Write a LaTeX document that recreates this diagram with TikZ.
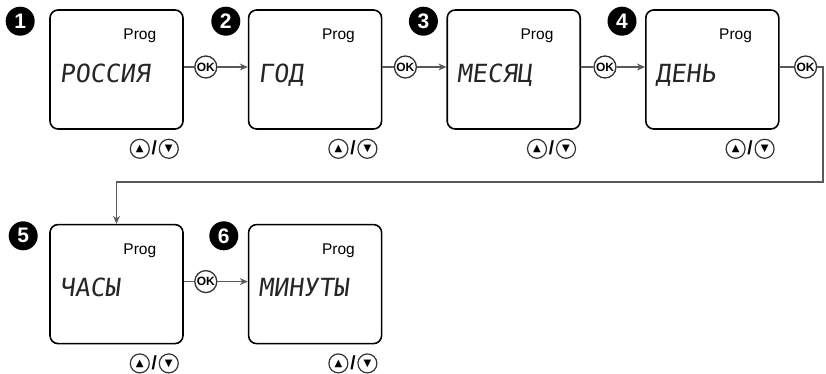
\documentclass[tikz,border=0pt]{standalone}
\usepackage{fontspec}
\setmainfont{Liberation Sans}
\newfontfamily\lcdfont[FakeSlant=0.12]{DejaVu Sans Mono}
\newfontfamily\symfont{DejaVu Sans}
\usetikzlibrary{calc,positioning,arrows.meta}
\tikzset{
    screen/.style={
        draw,
        line width=1.6pt,
        rounded corners=8pt,
        minimum width=133pt,
        minimum height=119pt,
        inner sep=0pt
    },
    oknode/.style={ % round OK key
        draw=black!80,
        line width=1.3pt,
        circle,
        minimum size=22pt,
        inner sep=0pt,
        fill=white,
        font=\bfseries\fontsize{12}{12}\selectfont
    },
    numnode/.style={
        circle,
        fill=black,
        text=white,
        minimum size=29pt,
        inner sep=0pt,
        font=\bfseries\fontsize{21}{21}\selectfont
    },
    keynode/.style={
        draw=black!80,
        line width=1.2pt,
        circle,
        minimum size=19pt,
        inner sep=0pt,
        font=\symfont\fontsize{10}{10}\selectfont
    },
    flow/.style={draw=black!65, line width=1.1pt}
}

\begin{document}
\begin{tikzpicture}[x=1pt,y=-1pt]
        \def\len{64}
        \useasboundingbox (0,0) rectangle (826,374);
        \node[screen] (S1) at (116.5,69.5) {};
        \node[screen,right = \len pt of S1] (S2) {};
        \node[screen,right = \len pt of S2] (S3) {};
        \node[screen,right = \len pt of S3] (S4) {};
        \node[screen,below = 94pt of S1] (S5) {};
        \node[screen,right = \len pt of S5] (S6) {};
        
        \foreach \s/\t in {S1/РОССИЯ, S2/ГОД, S3/МЕСЯЦ, S4/ДЕНЬ, S5/ЧАСЫ, S6/МИНУТЫ}{
            \node[font=\fontsize{15.5}{15.5}\selectfont] (\s prog) at ($(\s.north east)+(-44,27)$) {Prog};
            \node[anchor=base west,font=\lcdfont\fontsize{25}{25}\selectfont,text=black!85] (\s text) at ($(\s.north west)+(7,73)$) {\t};
            \node[keynode] (\s up) at ($(\s.south east)+(-44,19)$) {▲};
            \node[inner sep=0pt,font=\bfseries\fontsize{19}{19}\selectfont] (\s slash) at ($(\s.south east)+(-29.5,18)$) {/};
            \node[keynode] (\s down) at ($(\s.south east)+(-15,19)$) {▼};
        }
        \foreach \i/\dx in {1/-29, 2/-22, 3/-23, 4/-23, 5/-26, 6/-24}
            \node[numnode] (num\i) at ($(S\i.north west)+(\dx,12)$) {\i};
        
        \node[oknode] (ok12) at ($(S1.east)+(22,-2.5)$) {OK};
        \node[oknode] (ok23) at ($(S2.east)+(23,-2.5)$) {OK};
        \node[oknode] (ok34) at ($(S3.east)+(24,-2.5)$) {OK};
        \node[oknode] (ok45) at ($(S4.east)+(26,-2.5)$) {OK};
        \node[oknode] (ok56) at ($(S5.east)+(22,-2.5)$) {OK};
        \coordinate (edge) at (823,182);
        
        \draw[flow] (ok12 -| S1.east) -- (ok12);
        \draw[flow] (ok23 -| S2.east) -- (ok23);
        \draw[flow] (ok34 -| S3.east) -- (ok34);
        \draw[flow] (ok45 -| S4.east) -- (ok45);
        \draw[flow] (ok56 -| S5.east) -- (ok56);
        \draw[flow,-{Stealth[length=8pt,width=7pt]}] (ok12) -- (ok12 -| S2.west);
        \draw[flow,-{Stealth[length=8pt,width=7pt]}] (ok23) -- (ok23 -| S3.west);
        \draw[flow,-{Stealth[length=8pt,width=7pt]}] (ok34) -- (ok34 -| S4.west);
        \draw[flow,-{Stealth[length=8pt,width=7pt]}] (ok56) -- (ok56 -| S6.west);
        \draw[flow,-{Stealth[length=8pt,width=7pt]}] (ok45) -| (edge) -| (S5.north);
\end{tikzpicture}
\end{document}
